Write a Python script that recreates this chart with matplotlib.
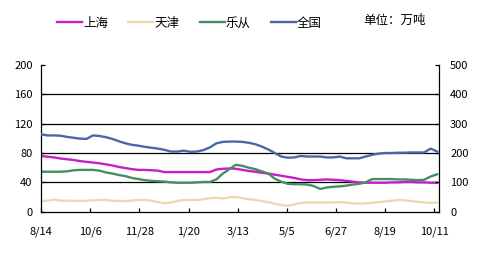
import matplotlib
matplotlib.use("Agg")
import matplotlib.pyplot as plt
import numpy as np

plt.rcParams['font.family'] = ['Noto Sans CJK SC', 'DejaVu Sans']

# x: days since 8/14, weekly observations
days = list(range(0, 428, 7))
tick_days = [0, 53, 106, 159, 212, 265, 318, 371, 424]
tick_labels = ["8/14", "10/6", "11/28", "1/20", "3/13", "5/5", "6/27", "8/19", "10/11"]

shanghai = [76, 75, 74, 72.5, 71.5, 70.5, 69, 68, 67, 66, 64.5, 63, 61, 59.5, 58, 57, 57, 56.5, 56, 54,
            54, 54, 54, 54, 54, 54, 54, 57.5, 58.5, 59, 58.5, 57, 55.5, 54.5, 53, 52, 50.5, 49, 47.5, 46,
            44, 43, 43, 43.5, 44, 43.5, 43, 42, 41, 40, 39.5, 39.5, 39.5, 39.5, 40, 40, 40.5, 40.5, 40, 40,
            39.5, 39.5]
tianjin = [14.5, 15, 16.5, 15, 15, 15, 14.5, 15, 15.5, 16, 16, 15, 14.5, 14.5, 15, 16, 16, 15, 13, 11.5,
           12.5, 14.5, 16, 16, 16, 17, 18.5, 19, 18, 19.5, 20, 18.5, 17, 16, 14.5, 13, 11, 9, 8, 10,
           12, 12.5, 12.5, 12.5, 12.5, 12.5, 13, 12.5, 11.5, 11, 11.5, 12, 13, 14, 15, 16, 15.5, 14.5, 13.5, 12.5,
           12, 12.5]
lecong = [54.5, 54.5, 54.5, 54.5, 55, 56.5, 57, 57, 57, 56, 53.5, 52, 50, 48.5, 46, 44.5, 43, 42, 41.5, 41,
          40, 39.5, 39.5, 39.5, 40, 40.5, 40.5, 44, 52, 58, 64, 62.5, 60, 58, 55, 52, 45, 41, 38, 37.5,
          37.5, 37, 35, 31, 33, 34, 34.5, 35.5, 37, 38, 40, 44.5, 44.5, 44.5, 44.5, 44, 44, 43.5, 43, 43.5,
          48, 51]
national = [264, 260, 260, 259, 255, 252, 249, 248, 260, 258, 254, 248, 240, 233, 228, 225, 221, 218, 215, 211,
            205, 205, 208, 204, 205, 210, 219, 233, 238, 239, 239, 238, 235, 230, 222, 212, 200, 188, 184, 185,
            190, 188, 188, 188, 185, 185, 188, 182, 182, 182, 188, 194, 198, 200, 200, 201, 201, 202, 202, 202,
            215, 205]

c_sh = "#C81EC8"
c_tj = "#EED8B4"
c_lc = "#4A8C62"
c_qg = "#4A68A8"

fig = plt.figure(figsize=(4.8, 2.58), dpi=100)
ax = fig.add_axes([41/480, 1-211.7/258, (439-41)/480, (211.7-65)/258])
ax2 = ax.twinx()

l1, = ax.plot(days, shanghai, color=c_sh, lw=1.7, label="上海")
l2, = ax.plot(days, tianjin, color=c_tj, lw=1.7, label="天津")
l3, = ax.plot(days, lecong, color=c_lc, lw=1.7, label="乐从")
l4, = ax2.plot(days, national, color=c_qg, lw=1.7, label="全国")

ax.set_xlim(0, 429)
ax.set_ylim(0, 200)
ax2.set_ylim(0, 500)
ax.set_yticks([0, 40, 80, 120, 160, 200])
ax2.set_yticks([0, 100, 200, 300, 400, 500])
ax.set_xticks(tick_days)
ax.set_xticklabels(tick_labels)

for y in [40, 80, 120, 160]:
    ax.axhline(y, color="black", lw=0.9, zorder=0)

for a in (ax, ax2):
    a.spines['top'].set_visible(False)
    for s in a.spines.values():
        s.set_linewidth(0.9)
ax.spines['right'].set_visible(False)
ax2.spines['left'].set_visible(False)
ax2.spines['bottom'].set_visible(False)

ax.tick_params(axis='both', direction='in', length=3, width=0.9, labelsize=8, colors='black')
ax.tick_params(axis='x', pad=11)
ax.tick_params(axis='y', pad=6)
ax2.tick_params(axis='y', direction='in', length=3, width=0.9, labelsize=8, pad=8)

fig.legend(handles=[l1, l2, l3, l4], loc='center left', bbox_to_anchor=(57/480, 1-23/258),
           ncol=4, frameon=False, fontsize=9, handlelength=2.0, handletextpad=0.1,
           columnspacing=1.6, borderaxespad=0, borderpad=0)
fig.text(363/480, 1-20/258, "单位：万吨", fontsize=9, va='center', ha='left')

fig.savefig("out.png", dpi=100)
